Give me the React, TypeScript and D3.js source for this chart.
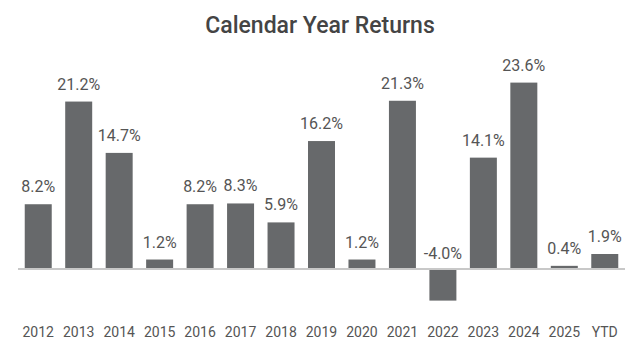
import React from "react";
import * as d3 from "d3";

const years = ["2012", "2013", "2014", "2015", "2016", "2017", "2018", "2019", "2020", "2021", "2022", "2023", "2024", "2025", "YTD"];
const returns = [8.2, 21.2, 14.7, 1.2, 8.2, 8.3, 5.9, 16.2, 1.2, 21.3, -4.0, 14.1, 23.6, 0.4, 1.9];

const width = 640;
const height = 355;

export default function App() {
  const x = d3.scaleBand().domain(years).range([18, 625]).paddingInner(0.333).paddingOuter(0.1665);
  // 0 sits at y=269, about 7.9px per percent
  const y = d3.scaleLinear().domain([-4, 23.6]).range([300.6, 82.6]);
  const data = years.map((k, i) => ({ k, v: returns[i] }));

  return (
    <svg width={width} height={height} style={{ position: "absolute", left: 0, top: 0, fontFamily: "Roboto, sans-serif" }}>
      <text x={320} y={33} textAnchor="middle" fontSize={23} fontWeight={500} fill="#444">
        Calendar Year Returns
      </text>
      {data.map((d) => (
        <rect
          key={d.k}
          x={x(d.k)}
          y={Math.min(y(0), y(d.v))}
          width={x.bandwidth()}
          height={Math.abs(y(d.v) - y(0))}
          fill="#67696b"
        />
      ))}
      <line x1={18} x2={625} y1={y(0)} y2={y(0)} stroke="#c8c8c8" strokeWidth={2} />
      {data.map((d) => (
        <text
          key={"l" + d.k}
          x={x(d.k)! + x.bandwidth() / 2}
          y={d.v >= 0 ? y(d.v) - 12 : y(0) - 10}
          textAnchor="middle"
          fontSize={16}
          fill="#555"
        >
          {d.v.toFixed(1) + "%"}
        </text>
      ))}
      {data.map((d) => (
        <text key={"a" + d.k} x={x(d.k)! + x.bandwidth() / 2} y={337} textAnchor="middle" fontSize={14} fill="#555">
          {d.k}
        </text>
      ))}
    </svg>
  );
}
